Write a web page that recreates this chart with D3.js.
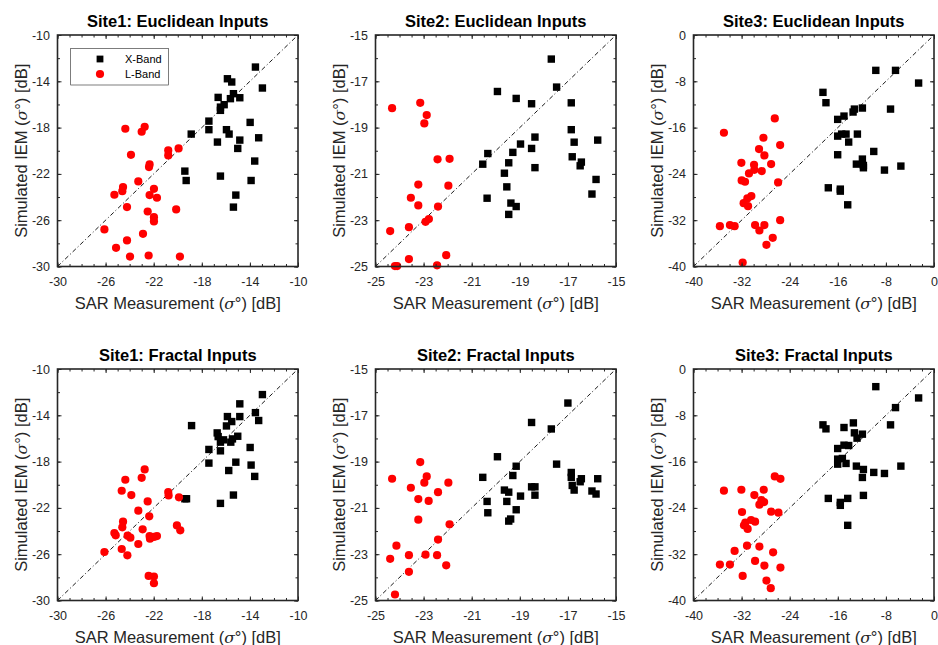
<!DOCTYPE html>
<html>
<head>
<meta charset="utf-8">
<script src="https://cdn.jsdelivr.net/npm/d3@7"></script>
<style>
  html, body { margin: 0; padding: 0; background: #fff; }
  svg { display: block; }
  text { font-family: "Liberation Sans", Arial, Helvetica, sans-serif; }
</style>
</head>
<body>
<svg id="chart" width="938" height="645"></svg>
<script>
// ---------------- DATA ----------------
const site1Ticks = [-30, -26, -22, -18, -14, -10];
const site2Ticks = [-25, -23, -21, -19, -17, -15];
const site3Ticks = [-40, -32, -24, -16, -8, 0];

const titles = [
  "Site1: Euclidean Inputs", "Site2: Euclidean Inputs", "Site3: Euclidean Inputs",
  "Site1: Fractal Inputs", "Site2: Fractal Inputs", "Site3: Fractal Inputs"
];
const seriesNames = ["X-Band", "L-Band"];
const xLabelText = "SAR Measurement";
const yLabelText = "Simulated IEM";

// Site1 Euclidean
const s1eX = [[-13.54,-12.77],[-12.96,-14.58],[-15.87,-13.78],[-15.51,-14.06],[-15.37,-15.07],[-15.62,-15.50],[-14.84,-15.42],[-16.64,-15.39],[-16.14,-16.02],[-16.45,-16.23],[-16.45,-16.51],[-17.41,-17.44],[-17.41,-18.18],[-18.88,-18.56],[-13.98,-17.55],[-15.95,-18.18],[-15.73,-18.56],[-16.70,-19.25],[-14.84,-19.08],[-13.27,-18.88],[-15.01,-19.80],[-13.60,-20.89],[-19.41,-21.76],[-19.30,-22.57],[-16.45,-22.19],[-13.90,-22.57],[-15.17,-23.83],[-15.37,-24.87]];
const s1eL = [[-24.36,-18.10],[-22.75,-17.93],[-23.00,-18.36],[-23.89,-20.35],[-20.79,-19.97],[-20.79,-20.40],[-19.93,-19.80],[-22.34,-21.18],[-22.39,-21.41],[-23.28,-22.65],[-24.55,-23.14],[-24.61,-23.49],[-25.27,-23.80],[-21.98,-23.29],[-22.34,-23.83],[-21.73,-24.06],[-24.22,-24.87],[-22.50,-25.25],[-21.98,-25.74],[-21.98,-26.11],[-20.13,-25.07],[-26.10,-26.80],[-22.89,-27.18],[-24.22,-27.75],[-25.13,-28.39],[-23.97,-29.14],[-22.42,-29.05],[-19.82,-29.14]];
// Site2 Euclidean
const s2eX = [[-17.69,-16.04],[-17.47,-17.25],[-19.93,-17.44],[-19.15,-17.74],[-18.51,-17.97],[-16.86,-17.93],[-16.86,-19.09],[-18.37,-19.41],[-16.74,-19.63],[-15.76,-19.54],[-18.97,-19.71],[-18.51,-19.90],[-20.33,-20.12],[-19.29,-20.07],[-16.82,-20.26],[-16.44,-20.49],[-16.49,-20.65],[-20.54,-20.58],[-19.46,-20.52],[-18.37,-20.73],[-19.64,-20.97],[-19.54,-21.56],[-15.83,-21.24],[-16.00,-21.87],[-20.36,-22.05],[-19.37,-22.26],[-19.15,-22.41],[-19.46,-22.75]];
const s2eL = [[-24.31,-18.16],[-23.14,-17.93],[-22.87,-18.46],[-22.97,-18.82],[-22.42,-20.37],[-21.92,-20.35],[-23.22,-21.46],[-21.97,-21.51],[-23.53,-22.03],[-23.22,-22.36],[-22.40,-22.41],[-22.78,-22.95],[-22.92,-23.07],[-23.61,-23.30],[-24.39,-23.47],[-23.61,-24.68],[-22.06,-24.51],[-24.19,-24.98],[-24.10,-24.98],[-22.44,-24.95]];
// Site3 Euclidean
const s3eX = [[-9.68,-6.11],[-6.40,-6.11],[-2.56,-8.30],[-18.47,-9.91],[-17.97,-11.70],[-7.23,-12.80],[-11.91,-12.62],[-13.24,-12.80],[-13.46,-13.31],[-14.97,-14.01],[-16.02,-14.58],[-15.36,-17.12],[-14.63,-17.12],[-16.02,-17.47],[-12.74,-17.12],[-14.19,-18.50],[-16.02,-20.69],[-10.02,-20.12],[-11.91,-21.44],[-12.91,-22.31],[-11.74,-22.54],[-11.74,-22.94],[-8.24,-23.34],[-5.51,-22.65],[-17.58,-26.40],[-15.58,-26.63],[-15.58,-26.98],[-14.35,-29.34]];
const s3eL = [[-26.48,-14.41],[-34.94,-16.89],[-28.37,-17.75],[-25.59,-19.02],[-29.10,-19.71],[-28.21,-20.81],[-32.04,-22.08],[-29.93,-22.42],[-27.09,-22.31],[-30.77,-23.92],[-29.88,-23.29],[-28.65,-23.52],[-31.99,-25.13],[-31.43,-25.36],[-25.93,-25.48],[-30.38,-27.84],[-31.04,-28.24],[-31.66,-29.05],[-30.93,-29.57],[-25.59,-31.99],[-35.61,-33.03],[-33.94,-32.85],[-33.16,-33.03],[-29.76,-32.85],[-28.21,-32.85],[-29.04,-33.78],[-26.82,-35.05],[-27.87,-36.26],[-31.82,-39.31]];
// Site1 Fractal
const s1fX = [[-12.96,-12.21],[-14.84,-13.01],[-13.54,-13.77],[-13.27,-14.45],[-15.87,-14.11],[-14.84,-14.11],[-15.51,-14.54],[-15.95,-14.92],[-18.85,-14.89],[-16.72,-15.52],[-16.64,-15.84],[-15.01,-15.81],[-16.20,-16.12],[-15.45,-16.04],[-16.45,-16.32],[-15.59,-16.32],[-17.41,-16.95],[-16.45,-17.07],[-13.98,-16.78],[-17.41,-18.13],[-15.17,-18.05],[-13.90,-18.30],[-15.76,-18.77],[-13.60,-19.28],[-19.41,-21.21],[-19.27,-21.21],[-15.37,-20.89],[-16.45,-21.61]];
const s1fL = [[-22.75,-18.68],[-24.36,-19.57],[-23.00,-19.40],[-24.66,-20.52],[-23.86,-20.89],[-20.79,-20.63],[-20.76,-20.92],[-19.90,-21.09],[-22.50,-21.44],[-23.28,-22.24],[-22.37,-22.73],[-24.55,-23.19],[-24.61,-23.68],[-25.27,-24.17],[-25.16,-24.37],[-22.92,-23.85],[-20.07,-23.51],[-19.79,-23.94],[-24.17,-24.40],[-23.94,-24.57],[-22.34,-24.43],[-22.31,-24.66],[-21.98,-24.51],[-21.73,-24.43],[-23.28,-25.12],[-26.10,-25.81],[-24.66,-25.55],[-24.19,-26.10],[-22.42,-27.88],[-21.98,-27.93],[-21.98,-28.51]];
// Site2 Fractal
const s2fX = [[-17.00,-16.47],[-18.51,-17.31],[-17.69,-17.59],[-19.93,-18.79],[-19.15,-19.20],[-17.47,-19.11],[-16.86,-19.47],[-16.86,-19.68],[-20.54,-19.68],[-19.29,-19.60],[-16.44,-19.74],[-16.49,-19.87],[-15.76,-19.74],[-18.51,-20.09],[-18.37,-20.09],[-16.82,-20.03],[-16.74,-20.23],[-19.64,-20.23],[-19.46,-20.32],[-18.97,-20.49],[-18.37,-20.45],[-16.00,-20.27],[-15.83,-20.40],[-20.36,-20.72],[-19.54,-20.72],[-19.15,-21.08],[-20.33,-21.21],[-19.38,-21.48],[-19.46,-21.57]];
const s2fL = [[-23.14,-19.02],[-24.31,-19.74],[-22.87,-19.64],[-22.97,-19.91],[-21.97,-19.91],[-23.53,-20.13],[-22.40,-20.32],[-23.22,-20.62],[-22.79,-20.70],[-23.22,-21.51],[-21.92,-21.71],[-22.40,-22.37],[-24.13,-22.63],[-24.39,-23.20],[-23.61,-23.04],[-22.92,-23.02],[-22.44,-23.04],[-22.06,-23.48],[-23.61,-23.76],[-24.19,-24.74]];
// Site3 Fractal
const s3fX = [[-9.68,-3.05],[-2.56,-5.00],[-6.40,-6.67],[-18.47,-9.65],[-17.97,-10.34],[-14.97,-10.11],[-13.41,-9.31],[-7.23,-9.65],[-13.24,-11.03],[-11.91,-11.26],[-12.80,-11.95],[-14.97,-13.16],[-14.19,-13.22],[-16.02,-13.74],[-16.02,-15.57],[-15.24,-15.46],[-16.02,-16.44],[-14.63,-16.32],[-12.91,-16.78],[-5.51,-16.78],[-11.74,-17.36],[-10.02,-17.87],[-8.24,-18.05],[-11.91,-18.74],[-11.74,-21.84],[-17.58,-22.36],[-14.35,-22.36],[-15.58,-23.05],[-15.58,-23.56],[-14.35,-27.01]];
const s3fL = [[-26.48,-18.56],[-25.54,-18.97],[-34.94,-21.03],[-32.04,-20.86],[-28.32,-20.86],[-29.88,-21.78],[-28.71,-22.64],[-28.26,-22.99],[-29.04,-23.45],[-31.93,-24.71],[-27.09,-24.65],[-25.87,-24.83],[-30.43,-26.09],[-29.76,-26.38],[-31.38,-26.55],[-31.60,-27.01],[-30.99,-27.64],[-31.10,-30.52],[-29.04,-30.69],[-33.16,-31.44],[-26.76,-31.67],[-29.76,-33.16],[-35.61,-33.79],[-33.94,-33.79],[-28.21,-33.96],[-25.54,-34.31],[-31.82,-35.75],[-27.87,-36.55],[-27.15,-37.87]];

// ---------------- LAYOUT ----------------
const colLeft = [57.5, 375.5, 693.5];
const rowTop = [35, 369];
const W = 240.5, H = 231.5;
const axisColor = "#262626";

const panels = [
  {title: titles[0], ticks: site1Ticks, xb: s1eX, lb: s1eL, col: 0, row: 0, legend: true},
  {title: titles[1], ticks: site2Ticks, xb: s2eX, lb: s2eL, col: 1, row: 0},
  {title: titles[2], ticks: site3Ticks, xb: s3eX, lb: s3eL, col: 2, row: 0},
  {title: titles[3], ticks: site1Ticks, xb: s1fX, lb: s1fL, col: 0, row: 1},
  {title: titles[4], ticks: site2Ticks, xb: s2fX, lb: s2fL, col: 1, row: 1},
  {title: titles[5], ticks: site3Ticks, xb: s3fX, lb: s3fL, col: 2, row: 1}
];

const svg = d3.select("#chart");
svg.append("rect").attr("width", 938).attr("height", 645).attr("fill", "#fff");

function addSigmaLabel(sel, base) {
  sel.append("tspan").text(base + " (");
  sel.append("tspan").attr("font-style", "italic").attr("font-family", "'DejaVu Serif', 'Liberation Serif', serif").attr("font-size", "0.95em").text("σ");
  sel.append("tspan").text("°) [dB]");
}

panels.forEach(p => {
  const dom = [p.ticks[0], p.ticks[p.ticks.length - 1]];
  const step = (dom[1] - dom[0]);
  const xMinor = d3.range(0, 21).map(i => dom[0] + step * i / 20);
  const yMinor = d3.range(0, 11).map(i => dom[0] + step * i / 10);
  const x = d3.scaleLinear().domain(dom).range([0, W]);
  const y = d3.scaleLinear().domain(dom).range([H, 0]);
  const g = svg.append("g").attr("transform", `translate(${colLeft[p.col]},${rowTop[p.row]})`);

  // 1:1 line
  g.append("line")
    .attr("x1", x(dom[0])).attr("y1", y(dom[0]))
    .attr("x2", x(dom[1])).attr("y2", y(dom[1]))
    .attr("stroke", "#000").attr("stroke-width", 0.9)
    .attr("stroke-dasharray", "4.5,2.5,1,2.5");

  // X-Band squares
  const s = 7.4;
  g.append("g").selectAll("rect").data(p.xb).join("rect")
    .attr("x", d => x(d[0]) - s / 2).attr("y", d => y(d[1]) - s / 2)
    .attr("width", s).attr("height", s).attr("fill", "#000");
  // L-Band circles
  g.append("g").selectAll("circle").data(p.lb).join("circle")
    .attr("cx", d => x(d[0])).attr("cy", d => y(d[1]))
    .attr("r", 4.1).attr("fill", "#ff0000");

  const fmt = d => String(d);
  // bottom axis
  const bx = g.append("g").attr("transform", `translate(0,${H})`)
    .call(d3.axisBottom(x).tickValues(p.ticks).tickSize(-4).tickPadding(11).tickFormat(fmt));
  const bxm = g.append("g").attr("transform", `translate(0,${H})`)
    .call(d3.axisBottom(x).tickValues(xMinor).tickSize(-2.5).tickFormat(""));
  const tx = g.append("g")
    .call(d3.axisTop(x).tickValues(p.ticks).tickSize(-4).tickFormat(""));
  const txm = g.append("g")
    .call(d3.axisTop(x).tickValues(xMinor).tickSize(-2.5).tickFormat(""));
  const ly = g.append("g")
    .call(d3.axisLeft(y).tickValues(p.ticks).tickSize(-4).tickPadding(7.5).tickFormat(fmt));
  const lym = g.append("g")
    .call(d3.axisLeft(y).tickValues(yMinor).tickSize(-2.5).tickFormat(""));
  const ry = g.append("g").attr("transform", `translate(${W},0)`)
    .call(d3.axisRight(y).tickValues(p.ticks).tickSize(-4).tickFormat(""));
  const rym = g.append("g").attr("transform", `translate(${W},0)`)
    .call(d3.axisRight(y).tickValues(yMinor).tickSize(-2.5).tickFormat(""));
  [bx, bxm, tx, txm, ly, lym, ry, rym].forEach(a => {
    a.select(".domain").remove();
    a.selectAll("line").attr("stroke", axisColor).attr("stroke-width", 1);
    a.selectAll("text").attr("fill", axisColor).attr("font-size", "12.5px")
      .attr("font-family", "'Liberation Sans', Arial, sans-serif");
  });

  // box
  g.append("rect").attr("x", 0).attr("y", 0).attr("width", W).attr("height", H)
    .attr("fill", "none").attr("stroke", axisColor).attr("stroke-width", 1.6);

  // title
  g.append("text").attr("x", W / 2).attr("y", -8.5).attr("text-anchor", "middle")
    .attr("font-size", "16.5px").attr("font-weight", "bold").attr("fill", "#000")
    .text(p.title);

  // x label
  const xl = g.append("text").attr("x", W / 2).attr("y", H + 42).attr("text-anchor", "middle")
    .attr("font-size", "16.5px").attr("fill", axisColor);
  addSigmaLabel(xl, xLabelText);

  // y label
  const yl = g.append("text")
    .attr("transform", `translate(-31,${H / 2}) rotate(-90)`)
    .attr("text-anchor", "middle").attr("font-size", "16.5px").attr("fill", axisColor);
  addSigmaLabel(yl, yLabelText);

  // legend
  if (p.legend) {
    const lg = g.append("g").attr("transform", "translate(13.2,13.3)");
    lg.append("rect").attr("width", 97.6).attr("height", 36.7)
      .attr("fill", "#fff").attr("stroke", axisColor).attr("stroke-width", 0.6);
    lg.append("rect").attr("x", 29.3 - 3.4).attr("y", 10.7 - 3.4).attr("width", 6.8).attr("height", 6.8).attr("fill", "#000");
    lg.append("circle").attr("cx", 29.3).attr("cy", 25.7).attr("r", 4.1).attr("fill", "#ff0000");
    lg.append("text").attr("x", 54.3).attr("y", 14.6).attr("font-size", "11px").attr("fill", "#000").text(seriesNames[0]);
    lg.append("text").attr("x", 54.3).attr("y", 29.6).attr("font-size", "11px").attr("fill", "#000").text(seriesNames[1]);
  }
});
</script>
</body>
</html>
